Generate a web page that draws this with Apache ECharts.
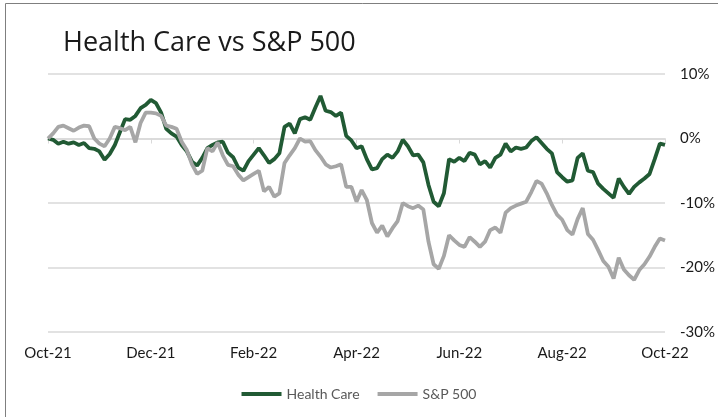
<!DOCTYPE html>
<html>
<head>
<meta charset="utf-8">
<script src="https://cdn.jsdelivr.net/npm/echarts@6/dist/echarts.min.js"></script>
<style>
  html, body { margin: 0; padding: 0; background: #fff; }
  #chart { width: 718px; height: 417px; }
</style>
</head>
<body>
<div id="chart"></div>
<script>
// tick labels, one every 2 months (every 20th sample)
const tickLabels = ['Oct-21', 'Dec-21', 'Feb-22', 'Apr-22', 'Jun-22', 'Aug-22', 'Oct-22']

// cumulative return (%), sampled every ~0.1 month
const healthCare = [
  0, -0.2, -0.8, -0.5, -0.8, -0.6, -1.0, -0.7, -1.5, -1.6,
  -2.0, -3.3, -2.4, -1.0, 1.0, 3.0, 2.9, 3.5, 4.7, 5.2,
  6.0, 5.5, 4.0, 1.5, 0.8, 0.3, -1.0, -2.0, -3.6, -4.2,
  -3.0, -1.5, -1.0, -0.6, -0.5, -2.2, -2.9, -4.5, -5.0, -3.5,
  -2.5, -1.5, -2.6, -3.8, -3.2, -2.3, 1.8, 2.3, 0.8, 3.0,
  3.3, 2.9, 4.8, 6.6, 4.3, 4.1, 3.5, 4.0, 0.4, -0.3,
  -1.5, -1.2, -3.2, -4.8, -4.6, -3.2, -2.5, -3.0, -2.0, -0.2,
  -1.2, -2.6, -2.5, -3.7, -7.2, -9.8, -10.5, -8.5, -3.2, -3.6,
  -3.0, -3.5, -2.2, -2.5, -4.0, -3.5, -4.5, -3.0, -2.5, -0.8,
  -2.0, -1.4, -1.6, -1.4, -0.4, 0.2, -0.7, -1.6, -2.3, -5.2,
  -6.0, -6.7, -6.5, -3.0, -2.3, -5.0, -5.2, -7.0, -7.8, -8.5,
  -9.2, -6.2, -7.5, -8.6, -7.5, -6.8, -6.2, -5.5, -3.2, -0.8,
  -1.0
]
const sp500 = [
  0, 0.8, 1.8, 2.0, 1.6, 1.2, 1.7, 2.0, 1.9, 0.0,
  -0.8, -1.2, 0.0, 1.8, 1.6, 1.3, 1.8, -0.6, 2.4, 4.0,
  4.0, 3.9, 3.5, 2.0, 1.8, 1.5, -0.5, -1.8, -4.0, -5.5,
  -5.0, -1.5, -2.0, -0.6, -2.6, -4.1, -4.3, -5.6, -6.5, -6.0,
  -5.5, -5.0, -8.2, -7.5, -9.0, -8.5, -3.8, -2.6, -1.5, 0.0,
  -0.5, -0.4, -1.8, -2.8, -4.0, -4.5, -4.3, -4.0, -7.5, -7.5,
  -9.8, -8.0, -9.5, -13.1, -14.6, -13.5, -15.2, -13.9, -12.8, -10.0,
  -10.5, -10.8, -10.4, -11.0, -16.0, -19.5, -20.2, -18.2, -15.0, -15.8,
  -16.5, -16.8, -15.3, -16.0, -16.8, -16.0, -14.2, -13.8, -14.6, -11.5,
  -10.8, -10.4, -10.1, -9.8, -8.3, -6.6, -7.0, -8.5, -10.3, -11.8,
  -12.6, -14.2, -14.9, -12.5, -10.8, -14.8, -15.7, -17.3, -19.0, -19.9,
  -21.7, -18.5, -20.3, -21.2, -21.9, -20.4, -19.5, -18.3, -16.8, -15.5,
  -15.8
]

const step = 20
const categories = healthCare.map((v, i) => (i % step === 0 ? tickLabels[i / step] : String(i)))

const chart = echarts.init(document.getElementById('chart'))
chart.setOption({
  animation: false,
  title: {
    text: 'Health Care vs S&P 500',
    left: 58,
    top: 25,
    textStyle: { fontFamily: 'Open Sans', fontSize: 27, fontWeight: 'normal', color: '#1a1a1a' }
  },
  graphic: [{
    type: 'rect',
    shape: { x: 5.5, y: 3.5, width: 800, height: 500 },
    style: { fill: 'none', stroke: '#7f7f7f', lineWidth: 1 }
  }],
  legend: {
    data: ['Health Care', 'S&P 500'],
    left: 'center',
    top: 382,
    icon: 'rect',
    itemWidth: 40,
    itemHeight: 4,
    itemGap: 18,
    textStyle: { fontFamily: 'Lato', fontSize: 14, color: '#595959' }
  },
  grid: { left: 48, right: 53, top: 74, bottom: 85 },
  xAxis: [
    {
      type: 'category',
      data: categories,
      boundaryGap: false,
      position: 'bottom',
      axisLine: { show: false, onZero: false },
      axisTick: { show: false },
      axisLabel: {
        interval: step - 1,
        margin: 14,
        fontFamily: 'Lato',
        fontSize: 15,
        color: '#1a1a1a'
      }
    },
    {
      type: 'category',
      data: categories,
      boundaryGap: false,
      position: 'top',
      axisLine: { show: true, onZero: true, lineStyle: { color: '#d9d9d9', width: 1.5 } },
      axisTick: { show: true, inside: true, interval: step - 1, length: 5, lineStyle: { color: '#d9d9d9' } },
      axisLabel: { show: false }
    }
  ],
  yAxis: {
    type: 'value',
    position: 'right',
    min: -30,
    max: 10,
    interval: 10,
    axisLine: { show: false },
    axisTick: { show: false },
    splitLine: { lineStyle: { color: '#d9d9d9', width: 1.5 } },
    axisLabel: {
      formatter: '{value}%',
      margin: 15,
      fontFamily: 'Lato',
      fontSize: 15,
      color: '#1a1a1a'
    }
  },
  series: [
    {
      name: 'Health Care',
      type: 'line',
      data: healthCare,
      showSymbol: false,
      itemStyle: { color: '#215a34' },
      lineStyle: { color: '#215a34', width: 3.8 }
    },
    {
      name: 'S&P 500',
      type: 'line',
      data: sp500,
      showSymbol: false,
      itemStyle: { color: '#a6a6a6' },
      lineStyle: { color: '#a6a6a6', width: 3.8 }
    }
  ]
})
</script>
</body>
</html>
